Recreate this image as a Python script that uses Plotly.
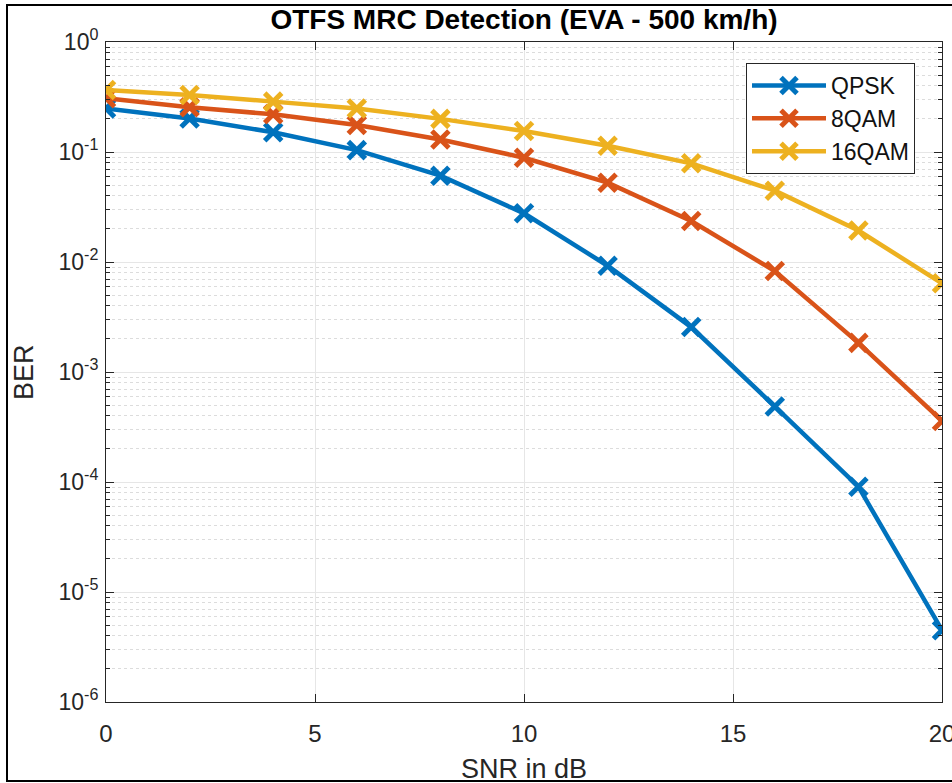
import plotly.graph_objects as go

# SNR sweep (dB) and measured bit error rates
snr_db = [0, 2, 4, 6, 8, 10, 12, 14, 16, 18, 20]
ber_qpsk = [0.249, 0.202, 0.151, 0.104, 0.0609, 0.0277, 0.00925, 0.00256, 4.86e-4, 9.06e-5, 4.5e-6]
ber_8qam = [0.308, 0.255, 0.220, 0.176, 0.130, 0.0887, 0.0526, 0.0236, 0.00828, 0.00184, 3.59e-4]
ber_16qam = [0.366, 0.330, 0.287, 0.249, 0.200, 0.155, 0.114, 0.0789, 0.0445, 0.0193, 0.0064]

series_names = ["QPSK", "8QAM", "16QAM"]
series_colors = ["#0072BD", "#D95319", "#EDB120"]

x_ticks = [0, 5, 10, 15, 20]
y_tick_vals = [1e-6, 1e-5, 1e-4, 1e-3, 1e-2, 1e-1, 1e0]
y_tick_text = ["10<sup>-6</sup>", "10<sup>-5</sup>", "10<sup>-4</sup>", "10<sup>-3</sup>",
               "10<sup>-2</sup>", "10<sup>-1</sup>", "10<sup>0</sup>"]

FONT = "Liberation Sans, Arial, Helvetica, sans-serif"
AXIS_COLOR = "#262626"

fig = go.Figure()
for name, ys, color in zip(series_names, [ber_qpsk, ber_8qam, ber_16qam], series_colors):
    fig.add_trace(go.Scatter(
        x=snr_db, y=ys, name=name, mode="lines+markers",
        line=dict(color=color, width=4.5),
        marker=dict(symbol="x-thin", size=17, line=dict(color=color, width=5)),
    ))

fig.update_layout(
    width=952, height=783,
    margin=dict(l=106, r=10, t=42, b=81, autoexpand=False),
    paper_bgcolor="white", plot_bgcolor="white",
    font=dict(family=FONT, color=AXIS_COLOR, size=22),
    showlegend=True,
    legend=dict(
        x=(746 - 106) / 836, y=1 - (63 - 42) / 660, xanchor="left", yanchor="top",
        bgcolor="white", bordercolor=AXIS_COLOR, borderwidth=1,
        font=dict(family=FONT, size=23, color="#111111"),
        itemwidth=74, tracegroupgap=0,
    ),
    title=dict(
        text="<b>OTFS MRC Detection (EVA - 500 km/h)</b>",
        x=0.5, xref="paper", xanchor="center",
        y=1 - 19 / 783, yref="container", yanchor="middle",
        font=dict(family=FONT, size=28, color="#000000"),
    ),
)

fig.update_xaxes(
    range=[0, 20], tickvals=x_ticks, ticktext=[str(v) for v in x_ticks],
    showline=True, linecolor=AXIS_COLOR, linewidth=1, mirror="ticks",
    ticks="inside", ticklen=8, tickcolor=AXIS_COLOR,
    showgrid=True, gridcolor="#e6e6e6", gridwidth=1,
    zeroline=False, tickfont=dict(size=24, color=AXIS_COLOR),
    ticklabelstandoff=10, ticklabeloverflow="allow", automargin=False,
)

fig.update_yaxes(
    type="log", range=[-6, 0], tickvals=y_tick_vals, ticktext=y_tick_text,
    showline=True, linecolor=AXIS_COLOR, linewidth=1, mirror="ticks",
    ticks="inside", ticklen=8, tickcolor=AXIS_COLOR,
    showgrid=True, gridcolor="#e6e6e6", gridwidth=1,
    zeroline=False, tickfont=dict(size=23, color=AXIS_COLOR),
    ticklabelstandoff=2, automargin=False,
    minor=dict(
        dtick="D1", ticks="inside", ticklen=4, tickcolor=AXIS_COLOR,
        showgrid=True, gridcolor="#dcdcdc", griddash="dot", gridwidth=1,
    ),
)

# Axis titles
fig.add_annotation(
    text="SNR in dB", xref="paper", yref="paper", x=0.5, y=-(769 - 702) / 660,
    xanchor="center", yanchor="middle", showarrow=False,
    font=dict(family=FONT, size=27, color=AXIS_COLOR),
)
fig.add_annotation(
    text="BER", xref="paper", yref="paper", x=-(106 - 24) / 836, y=1 - (372 - 42) / 660,
    xanchor="center", yanchor="middle", textangle=-90, showarrow=False,
    font=dict(family=FONT, size=27, color=AXIS_COLOR),
)

# Figure frame
fig.add_shape(
    type="rect", xref="paper", yref="paper",
    x0=(7 - 106) / 836, x1=1.2, y0=-(781 - 702) / 660, y1=1 + (42 - 5) / 660,
    line=dict(color="#000000", width=2), fillcolor="rgba(0,0,0,0)", layer="above",
)

fig.write_html("out.html")
